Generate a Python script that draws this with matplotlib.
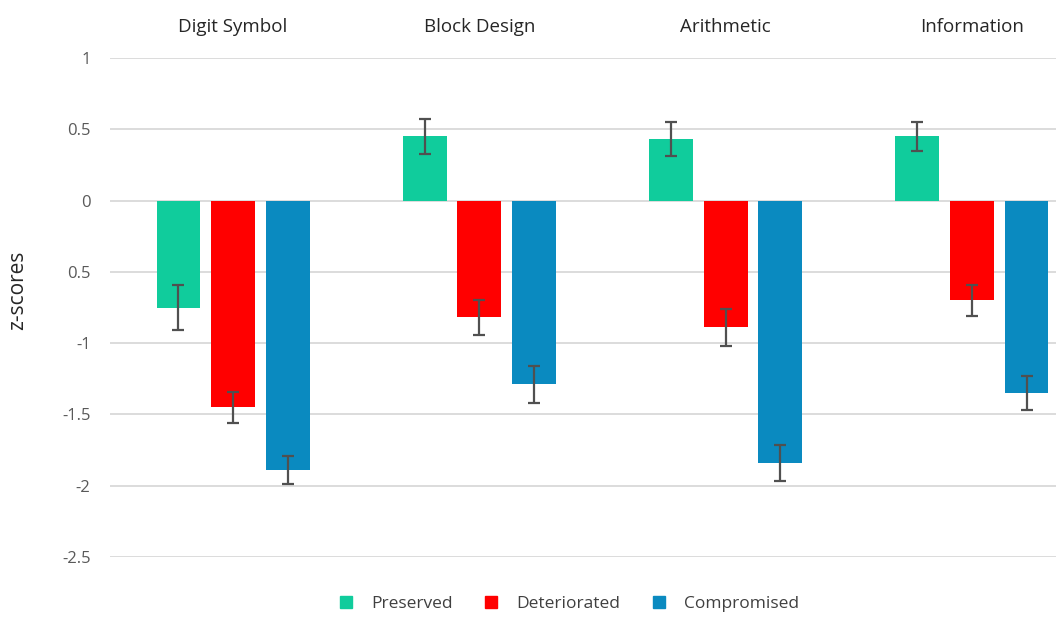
import matplotlib
matplotlib.use("Agg")
import matplotlib.pyplot as plt
import matplotlib.transforms as mtransforms
import numpy as np

# Subtest names and group means / error margins (z-scores)
subtests = ["Digit Symbol", "Block Design", "Arithmetic", "Information"]
groups = ["Preserved", "Deteriorated", "Compromised"]
preserved = [-0.75, 0.45, 0.43, 0.45]
deteriorated = [-1.45, -0.82, -0.89, -0.70]
compromised = [-1.89, -1.29, -1.84, -1.35]
preserved_err = [0.155, 0.125, 0.12, 0.10]
deteriorated_err = [0.11, 0.12, 0.13, 0.11]
compromised_err = [0.10, 0.13, 0.125, 0.12]
yticks = [1, 0.5, 0, -0.5, -1, -1.5, -2, -2.5]
ytick_labels = ["1", "0.5", "0", "0.5", "-1", "-1.5", "-2", "-2.5"]

colors = ["#10CC9C", "#FF0000", "#0A8AC0"]
plt.rcParams["font.family"] = ["Open Sans", "DejaVu Sans"]

fig = plt.figure(figsize=(10.56, 6.17), dpi=100)
ax = fig.add_axes([110 / 1056, 1 - 557 / 617, 985 / 1056, (557 - 58) / 617])

x = np.arange(len(subtests))
width = 0.178
offset = 0.222
series = [(preserved, preserved_err), (deteriorated, deteriorated_err),
          (compromised, compromised_err)]
for i, ((vals, errs), name, col) in enumerate(zip(series, groups, colors)):
    ax.bar(x + (i - 1) * offset, vals, width, color=col, label=name, zorder=3,
           yerr=errs, error_kw=dict(ecolor="#505050", elinewidth=1.6,
                                    capsize=4.5, capthick=1.6, zorder=4))

ax.set_xlim(-0.5, len(subtests) - 0.5)
ax.set_ylim(-2.5, 1)
ax.set_yticks(yticks)
ax.set_yticklabels(ytick_labels)
ax.tick_params(axis="y", length=0, pad=14, labelsize=12, labelcolor="#595959")
ax.tick_params(axis="x", length=0, labelbottom=False)
ax.yaxis.grid(True, color="#D9D9D9", linewidth=1.3, zorder=0)
ax.xaxis.grid(False)
for s in ax.spines.values():
    s.set_visible(False)

# Subtest names across the top
trans = mtransforms.blended_transform_factory(ax.transData, fig.transFigure)
for xi, name in zip(x, subtests):
    ax.text(xi, 1 - 27 / 617, name, transform=trans, ha="center", va="center",
            fontsize=13.5, color="#262626")

fig.text(18 / 1056, 1 - 290 / 617, "z-scores", rotation=90, ha="center",
         va="center", fontsize=15, color="#262626")

handles = [plt.Line2D([], [], marker="s", linestyle="none", markersize=8.5,
                      markerfacecolor=c, markeredgecolor=c) for c in colors]
fig.legend(handles, groups, loc="center", bbox_to_anchor=(564 / 1056, 1 - 604 / 617),
           ncol=3, frameon=False, fontsize=12.5, handletextpad=0.45,
           columnspacing=1.2, labelcolor="#404040")

fig.savefig("out.png", dpi=100, facecolor="white")
